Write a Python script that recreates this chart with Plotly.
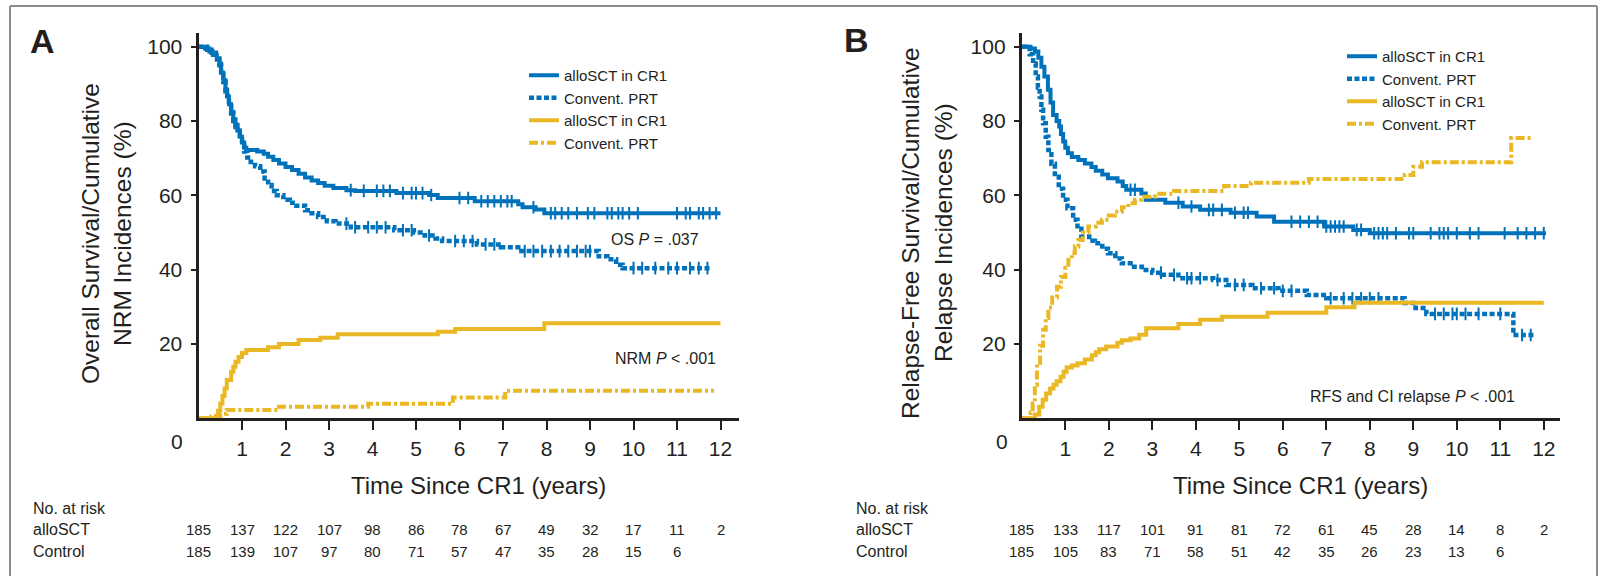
import numpy as np
import plotly.graph_objects as go

W, H = 1602, 576
BLUE = "#0072BC"
GOLD = "#E9B824"
INK = "#231F20"
FONT = "Liberation Sans, Arial, Helvetica, sans-serif"

# ---------------- Panel A: overall survival / NRM ----------------
os_allo_t = [0, 0.15, 0.25, 0.33, 0.42, 0.48, 0.52, 0.57, 0.62, 0.66, 0.7, 0.75, 0.8, 0.85,
             0.9, 0.95, 1.0, 1.05, 1.1, 1.35, 1.5, 1.6, 1.72, 1.85, 2.0, 2.15, 2.3, 2.45, 2.6,
             2.75, 2.9, 3.1, 3.4, 3.6, 4.55, 5.3, 5.5, 6.35, 7.35, 7.45, 7.75, 7.95, 12.0]
os_allo_v = [100, 99.5, 98.7, 97.8, 96.5, 95.5, 93, 91, 88.5, 86.6, 84.5, 82.5, 80.5, 79,
             77.5, 75.8, 74.2, 72.8, 72.2, 71.8, 71.2, 70.4, 69.5, 68.6, 67.6, 66.8, 65.8, 64.8, 64,
             63.3, 62.6, 62, 61.4, 61.2, 60.6, 60.1, 59.3, 58.4, 57.6, 56.8, 56.2, 55.2, 55.2]
os_allo_cens = [3.5, 3.8, 4.1, 4.25, 4.4, 4.7, 4.9, 5.0, 5.15, 5.35, 6.0, 6.2, 6.5, 6.65, 6.8,
                6.95, 7.1, 7.2, 7.7, 8.1, 8.2, 8.35, 8.5, 8.7, 8.95, 9.1, 9.4, 9.5, 9.65, 9.75,
                9.9, 10.1, 11.0, 11.2, 11.3, 11.5, 11.6, 11.75, 11.9]

os_ctrl_t = [0, 0.2, 0.3, 0.4, 0.48, 0.52, 0.57, 0.62, 0.66, 0.7, 0.75, 0.8, 0.85, 0.9, 0.95,
             1.0, 1.05, 1.12, 1.2, 1.3, 1.42, 1.52, 1.6, 1.68, 1.8, 1.95, 2.1, 2.25, 2.45, 2.6,
             2.75, 2.95, 3.15, 3.5, 4.5, 4.95, 5.2, 5.45, 5.6, 6.4, 6.95, 7.35, 9.2, 9.4, 9.6,
             9.75, 11.8]
os_ctrl_v = [100, 99.2, 98.4, 96.8, 95, 92.5, 90.5, 88, 86, 84, 82, 80, 78.4, 76.8, 75,
             73.5, 71.8, 70.2, 69, 67.8, 66.4, 64.5, 62.8, 61.2, 60, 58.8, 58, 57.2, 56, 55.2,
             54.2, 53, 52.4, 51.4, 50.6, 50.0, 49.2, 48.4, 47.7, 46.8, 46, 45, 43.6, 42.8, 41.3,
             40.4, 40.4]
os_ctrl_cens = [3.4, 3.6, 3.9, 4.1, 4.3, 4.7, 4.9, 5.3, 5.9, 6.1, 6.3, 6.6, 6.8, 7.5, 7.7,
                7.9, 8.1, 8.3, 8.5, 8.7, 8.9, 9.0, 10.0, 10.2, 10.5, 10.8, 11.0, 11.3, 11.5, 11.7]

nrm_allo_t = [0, 0.4, 0.45, 0.5, 0.55, 0.6, 0.65, 0.75, 0.8, 0.85, 0.92, 1.0, 1.1, 1.6, 1.85,
              2.3, 2.8, 3.2, 5.5, 5.9, 7.95, 12.0]
nrm_allo_v = [0, 0.6, 2, 4, 6, 8, 10.3, 12.5, 13.9, 15.2, 16.5, 17.6, 18.4, 19.1, 20,
              21.1, 21.7, 22.6, 23.3, 24, 25.6, 25.6]

nrm_ctrl_t = [0, 0.3, 0.5, 0.65, 1.85, 3.9, 5.85, 7.05, 11.85]
nrm_ctrl_v = [0, 0.5, 1.2, 2.2, 3.1, 3.9, 5.6, 7.4, 7.4]

risk_a_allo = [185, 137, 122, 107, 98, 86, 78, 67, 49, 32, 17, 11, 2]
risk_a_ctrl = [185, 139, 107, 97, 80, 71, 57, 47, 35, 28, 15, 6]

# ---------------- Panel B: relapse-free survival / CI relapse ----------------
rfs_allo_t = [0, 0.2, 0.3, 0.38, 0.45, 0.52, 0.6, 0.66, 0.72, 0.8, 0.86, 0.9, 0.95, 1.0, 1.06,
              1.15, 1.3, 1.45, 1.6, 1.7, 1.85, 1.98, 2.2, 2.32, 2.4, 2.75, 2.85, 3.3, 3.7, 4.1,
              4.8, 5.4, 5.8, 6.95, 7.62, 8.0, 12.05]
rfs_allo_v = [100, 99.5, 98.7, 97, 94.6, 92, 88.4, 85, 81.6, 80, 78.5, 76.5, 74.5, 72.8, 71.3,
              70.3, 69.5, 68.6, 67.6, 66.6, 65.6, 64.6, 63.7, 62.5, 61.5, 60.5, 58.8, 58, 57, 56.1,
              55.3, 54.3, 52.9, 51.6, 50.7, 49.8, 49.8]
rfs_allo_cens = [2.5, 2.6, 3.6, 3.9, 4.3, 4.4, 4.6, 4.9, 5.1, 5.2, 6.2, 6.4, 6.6, 6.8, 7.0,
                 7.1, 7.2, 7.3, 7.4, 7.7, 7.8, 8.1, 8.2, 8.3, 8.4, 8.6, 8.9, 9.0, 9.4, 9.6, 9.7,
                 9.8, 10.0, 10.3, 10.5, 11.1, 11.4, 11.6, 11.8, 12.0]

rfs_ctrl_t = [0, 0.1, 0.18, 0.26, 0.32, 0.37, 0.41, 0.45, 0.49, 0.55, 0.61, 0.68, 0.76, 0.85,
              0.95, 1.05, 1.18, 1.28, 1.37, 1.55, 1.68, 1.85, 1.98, 2.15, 2.3, 2.5, 2.76, 3.0,
              3.22, 3.6, 4.4, 4.7, 5.3, 5.9, 6.55, 7.0, 8.8, 9.05, 9.3, 11.3, 11.8]
rfs_ctrl_v = [100, 99.5, 98, 95.5, 92, 89, 86.6, 83, 79.4, 75.8, 72.2, 68.5, 65, 61.8,
              58.8, 56.5, 53.4, 51, 48.9, 47.8, 47.1, 45.6, 44.4, 43, 41.7, 40.8, 39.9, 39.2,
              38.6, 37.7, 37.2, 35.9, 35, 34.3, 33.2, 32.3, 31, 29.7, 28.1, 22.4, 22.4]
rfs_ctrl_cens = [3.2, 3.5, 3.8, 3.9, 4.1, 4.5, 4.9, 5.1, 5.5, 5.8, 6.0, 6.2, 7.1, 7.4, 7.6,
                 7.8, 8.0, 8.2, 9.5, 9.7, 9.9, 10.0, 10.2, 10.5, 11.0, 11.5, 11.7]

rel_ctrl_t = [0, 0.12, 0.2, 0.25, 0.3, 0.35, 0.42, 0.49, 0.55, 0.61, 0.7, 0.81, 0.9, 1.0, 1.07,
              1.15, 1.22, 1.3, 1.4, 1.53, 1.7, 1.84, 2.0, 2.14, 2.3, 2.45, 2.6, 2.75, 3.06, 3.5,
              4.65, 5.27, 6.6, 8.8, 9.0, 9.2, 11.25, 11.7]
rel_ctrl_v = [0, 0, 1.5, 4, 9, 14.9, 19.5, 23.8, 27, 29.8, 32.5, 35.4, 38, 40.5, 42.6,
              44.5, 46.2, 48, 50, 51.6, 52.6, 53.4, 54.6, 55.6, 56.8, 57.9, 58.8, 59.6, 60.4, 61.2,
              62.5, 63.4, 64.4, 65.5, 67.7, 68.9, 75.4, 75.4]

rel_allo_t = [0, 0.25, 0.3, 0.4, 0.48, 0.56, 0.65, 0.73, 0.8, 0.89, 0.96, 1.03, 1.15, 1.28,
              1.45, 1.61, 1.7, 1.78, 1.94, 2.2, 2.3, 2.5, 2.7, 2.86, 3.6, 4.1, 4.6, 5.65, 7.0,
              7.65, 12.0]
rel_allo_v = [0, 0, 1, 3.1, 5, 6.7, 8, 9, 10, 11.2, 12.5, 13.7, 14.2, 14.8,
              15.8, 17, 17.8, 18.6, 19.3, 20.3, 21, 21.5, 22.5, 24.2, 25.4, 26.5, 27.3, 28.4, 29.9,
              31.1, 31.1]

risk_b_allo = [185, 133, 117, 101, 91, 81, 72, 61, 45, 28, 14, 8, 2]
risk_b_ctrl = [185, 105, 83, 71, 58, 51, 42, 35, 26, 23, 13, 6]

years = list(range(13))
y_ticks = [20, 40, 60, 80, 100]

SQUARE_DOT = "5px,2.5px"
DASH_DOT = "9px,3px,3px,3px"


def step_at(t, v, when):
    t = np.asarray(t, float)
    v = np.asarray(v, float)
    idx = np.searchsorted(t, np.asarray(when, float), side="right") - 1
    return v[np.clip(idx, 0, len(v) - 1)]


fig = go.Figure()


def add_curve(t, v, color, dash, width, name, xa, ya, legend, cens=None):
    fig.add_trace(go.Scatter(
        x=t, y=v, mode="lines", line=dict(color=color, width=width, dash=dash, shape="hv"),
        name=name, xaxis=xa, yaxis=ya, legend=legend, hoverinfo="skip"))
    if cens:
        fig.add_trace(go.Scatter(
            x=cens, y=step_at(t, v, cens), mode="markers", showlegend=False,
            marker=dict(symbol="line-ns", size=9, line=dict(color=color, width=2)),
            xaxis=xa, yaxis=ya, hoverinfo="skip"))


add_curve(os_allo_t, os_allo_v, BLUE, "solid", 4, "alloSCT in CR1", "x", "y", "legend", os_allo_cens)
add_curve(os_ctrl_t, os_ctrl_v, BLUE, SQUARE_DOT, 4.5, "Convent. PRT", "x", "y", "legend", os_ctrl_cens)
add_curve(nrm_allo_t, nrm_allo_v, GOLD, "solid", 4, "alloSCT in CR1", "x", "y", "legend")
add_curve(nrm_ctrl_t, nrm_ctrl_v, GOLD, DASH_DOT, 4, "Convent. PRT", "x", "y", "legend")

add_curve(rfs_allo_t, rfs_allo_v, BLUE, "solid", 4, "alloSCT in CR1", "x2", "y2", "legend2", rfs_allo_cens)
add_curve(rfs_ctrl_t, rfs_ctrl_v, BLUE, SQUARE_DOT, 4.5, "Convent. PRT", "x2", "y2", "legend2", rfs_ctrl_cens)
add_curve(rel_allo_t, rel_allo_v, GOLD, "solid", 4, "alloSCT in CR1", "x2", "y2", "legend2")
add_curve(rel_ctrl_t, rel_ctrl_v, GOLD, DASH_DOT, 4, "Convent. PRT", "x2", "y2", "legend2")

# axis geometry in pixels
A_X0, A_X1 = 198.5, 739.0
B_X0, B_X1 = 1021.8, 1560.0
PX_PER_YEAR = 43.5
Y0, Y_TOP = 418.3, 32.7
PX_PER_PCT = 3.716

xcommon = dict(
    tickvals=years[1:], ticks="outside", ticklen=9, tickwidth=1.5, tickcolor=INK,
    showline=True, linewidth=3, linecolor=INK, showgrid=False, zeroline=False,
    tickfont=dict(family=FONT, size=21, color=INK), fixedrange=True,
)
ycommon = dict(
    tickvals=y_ticks, ticks="outside", ticklen=5, tickwidth=1.5, tickcolor=INK,
    showline=True, linewidth=3, linecolor=INK, showgrid=False, zeroline=False,
    tickfont=dict(family=FONT, size=21, color=INK), ticklabelstandoff=4,
    range=[0, (Y0 - Y_TOP) / PX_PER_PCT], domain=[1 - Y0 / H, 1 - Y_TOP / H],
)

legend_style = dict(xanchor="left", yanchor="top", font=dict(family=FONT, size=15, color=INK),
                    bgcolor="rgba(0,0,0,0)", tracegroupgap=0)

fig.update_layout(
    width=W, height=H, margin=dict(l=0, r=0, t=0, b=0),
    paper_bgcolor="white", plot_bgcolor="rgba(0,0,0,0)",
    xaxis=dict(xcommon, domain=[A_X0 / W, A_X1 / W], range=[0, (A_X1 - A_X0) / PX_PER_YEAR], anchor="y"),
    yaxis=dict(ycommon, anchor="x"),
    xaxis2=dict(xcommon, domain=[B_X0 / W, B_X1 / W], range=[0, (B_X1 - B_X0) / PX_PER_YEAR], anchor="y2"),
    yaxis2=dict(ycommon, anchor="x2"),
    legend=dict(legend_style, x=524 / W, y=1 - 59 / H),
    legend2=dict(legend_style, x=1342 / W, y=1 - 40 / H),
    showlegend=True,
)

ann = []


def text(x, y, s, size, xanchor="center", yanchor="middle", xref="paper", yref="paper", angle=0):
    ann.append(dict(x=x, y=y, text=s, xref=xref, yref=yref, xanchor=xanchor, yanchor=yanchor,
                    showarrow=False, textangle=angle, font=dict(family=FONT, size=size, color=INK)))


# panel letters
text(42 / W, 1 - 41 / H, "<b>A</b>", 34)
text(856 / W, 1 - 40 / H, "<b>B</b>", 34)

# y-axis titles
text(90 / W, 1 - 234 / H, "Overall Survival/Cumulative", 24.5, angle=-90)
text(122 / W, 1 - 234 / H, "NRM Incidences (%)", 24.5, angle=-90)
text(911 / W, 1 - 233 / H, "Relapse-Free Survival/Cumulative", 24.5, angle=-90)
text(944 / W, 1 - 233 / H, "Relapse Incidences (%)", 24.5, angle=-90)

# x-axis titles and the "0" label set left of the corner
text(478 / W, 1 - 485 / H, "Time Since CR1 (years)", 24)
text(1300 / W, 1 - 485 / H, "Time Since CR1 (years)", 24)
text(177 / W, 1 - 441 / H, "0", 21)
text(1001.5 / W, 1 - 441 / H, "0", 21)

# p-values
text(11.55, 48, "OS <i>P</i> = .037", 16, xanchor="right", xref="x", yref="y")
text(11.94, 16.2, "NRM <i>P</i> < .001", 16, xanchor="right", xref="x", yref="y")
text(11.38, 6, "RFS and CI relapse <i>P</i> < .001", 16, xanchor="right", xref="x2", yref="y2")

# numbers at risk
for xref, left, allo, ctrl in (("x", 30.6, risk_a_allo, risk_a_ctrl),
                               ("x2", 853.6, risk_b_allo, risk_b_ctrl)):
    text(left / W, 1 - 508 / H, "No. at risk", 16, xanchor="left")
    text(left / W, 1 - 529 / H, "alloSCT", 16, xanchor="left")
    text(left / W, 1 - 551 / H, "Control", 16, xanchor="left")
    for yr, n in zip(years, allo):
        text(yr, 1 - 529 / H, str(n), 15, xref=xref)
    for yr, n in zip(years, ctrl):
        text(yr, 1 - 551 / H, str(n), 15, xref=xref)

fig.update_layout(annotations=ann)

# outer frame
frame = dict(type="line", xref="paper", yref="paper", line=dict(color="#8C8C8C", width=2))
fig.update_layout(shapes=[
    dict(frame, x0=10 / W, x1=10 / W, y0=0, y1=1 - 6 / H),
    dict(frame, x0=10 / W, x1=1597 / W, y0=1 - 6 / H, y1=1 - 6 / H),
    dict(frame, x0=1597 / W, x1=1597 / W, y0=0, y1=1 - 6 / H),
])

fig.write_html("out.html")
